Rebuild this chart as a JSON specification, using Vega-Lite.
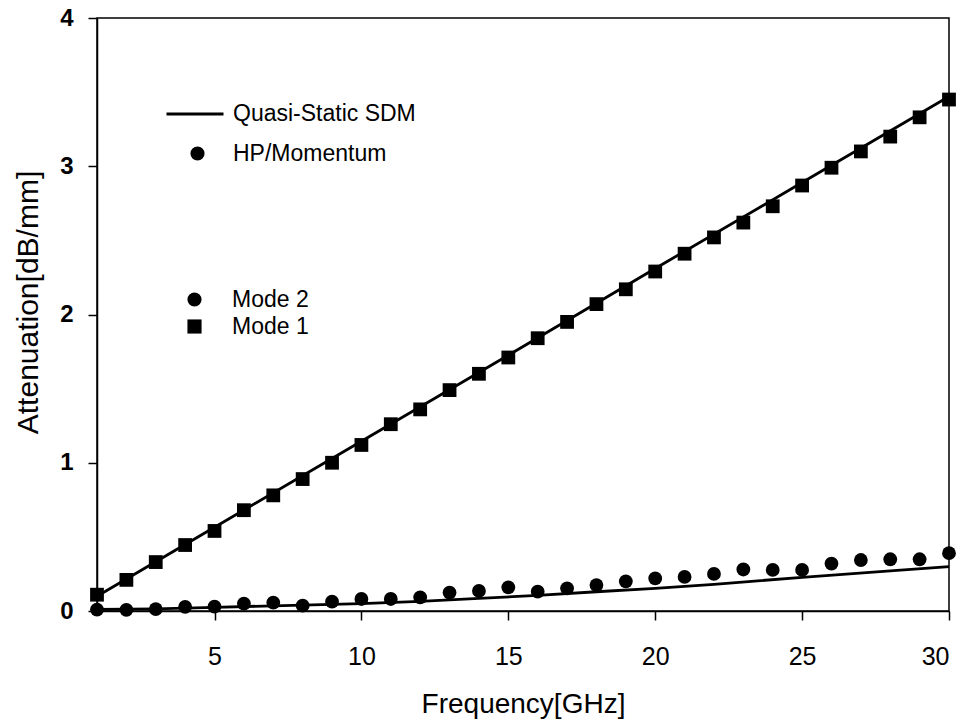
{
  "$schema": "https://vega.github.io/schema/vega-lite/v6.json",
  "width": 852,
  "height": 593,
  "autosize": {"type": "none"},
  "padding": {"left": 97, "top": 18, "right": 22, "bottom": 111},
  "background": "white",
  "config": {
    "font": "Liberation Sans",
    "view": {"stroke": "black", "strokeWidth": 1.5},
    "axis": {
      "grid": false,
      "domainColor": "black",
      "domainWidth": 1.5,
      "tickColor": "black",
      "tickWidth": 1.5,
      "tickSize": 9,
      "labelColor": "black",
      "titleColor": "black",
      "labelFont": "Liberation Sans",
      "titleFont": "Liberation Sans",
      "titleFontWeight": "normal"
    },
    "legend": {
      "labelFont": "Liberation Sans",
      "labelFontSize": 23,
      "labelColor": "black",
      "padding": 0,
      "labelLimit": 400
    }
  },
  "datasets": {
    "sdm": [
      {"mode": "Mode 1", "method": "Quasi-Static SDM", "f": 1, "v": 0.10},
      {"mode": "Mode 1", "method": "Quasi-Static SDM", "f": 5, "v": 0.565},
      {"mode": "Mode 1", "method": "Quasi-Static SDM", "f": 10, "v": 1.145},
      {"mode": "Mode 1", "method": "Quasi-Static SDM", "f": 15, "v": 1.725},
      {"mode": "Mode 1", "method": "Quasi-Static SDM", "f": 20, "v": 2.31},
      {"mode": "Mode 1", "method": "Quasi-Static SDM", "f": 25, "v": 2.89},
      {"mode": "Mode 1", "method": "Quasi-Static SDM", "f": 30, "v": 3.47},
      {"mode": "Mode 2", "method": "Quasi-Static SDM", "f": 1, "v": 0.01},
      {"mode": "Mode 2", "method": "Quasi-Static SDM", "f": 3, "v": 0.015},
      {"mode": "Mode 2", "method": "Quasi-Static SDM", "f": 5, "v": 0.025},
      {"mode": "Mode 2", "method": "Quasi-Static SDM", "f": 7, "v": 0.035},
      {"mode": "Mode 2", "method": "Quasi-Static SDM", "f": 10, "v": 0.05},
      {"mode": "Mode 2", "method": "Quasi-Static SDM", "f": 12, "v": 0.065},
      {"mode": "Mode 2", "method": "Quasi-Static SDM", "f": 14, "v": 0.085},
      {"mode": "Mode 2", "method": "Quasi-Static SDM", "f": 16, "v": 0.105},
      {"mode": "Mode 2", "method": "Quasi-Static SDM", "f": 18, "v": 0.13},
      {"mode": "Mode 2", "method": "Quasi-Static SDM", "f": 20, "v": 0.153},
      {"mode": "Mode 2", "method": "Quasi-Static SDM", "f": 22, "v": 0.18},
      {"mode": "Mode 2", "method": "Quasi-Static SDM", "f": 25, "v": 0.227},
      {"mode": "Mode 2", "method": "Quasi-Static SDM", "f": 28, "v": 0.27},
      {"mode": "Mode 2", "method": "Quasi-Static SDM", "f": 30, "v": 0.30}
    ],
    "hp": [
      {"mode": "Mode 1", "method": "HP/Momentum", "f": 1, "v": 0.11},
      {"mode": "Mode 1", "method": "HP/Momentum", "f": 2, "v": 0.21},
      {"mode": "Mode 1", "method": "HP/Momentum", "f": 3, "v": 0.33},
      {"mode": "Mode 1", "method": "HP/Momentum", "f": 4, "v": 0.445},
      {"mode": "Mode 1", "method": "HP/Momentum", "f": 5, "v": 0.54},
      {"mode": "Mode 1", "method": "HP/Momentum", "f": 6, "v": 0.68},
      {"mode": "Mode 1", "method": "HP/Momentum", "f": 7, "v": 0.78},
      {"mode": "Mode 1", "method": "HP/Momentum", "f": 8, "v": 0.89},
      {"mode": "Mode 1", "method": "HP/Momentum", "f": 9, "v": 1.0},
      {"mode": "Mode 1", "method": "HP/Momentum", "f": 10, "v": 1.12},
      {"mode": "Mode 1", "method": "HP/Momentum", "f": 11, "v": 1.26},
      {"mode": "Mode 1", "method": "HP/Momentum", "f": 12, "v": 1.36},
      {"mode": "Mode 1", "method": "HP/Momentum", "f": 13, "v": 1.49},
      {"mode": "Mode 1", "method": "HP/Momentum", "f": 14, "v": 1.6},
      {"mode": "Mode 1", "method": "HP/Momentum", "f": 15, "v": 1.71},
      {"mode": "Mode 1", "method": "HP/Momentum", "f": 16, "v": 1.84},
      {"mode": "Mode 1", "method": "HP/Momentum", "f": 17, "v": 1.95},
      {"mode": "Mode 1", "method": "HP/Momentum", "f": 18, "v": 2.07},
      {"mode": "Mode 1", "method": "HP/Momentum", "f": 19, "v": 2.17},
      {"mode": "Mode 1", "method": "HP/Momentum", "f": 20, "v": 2.29},
      {"mode": "Mode 1", "method": "HP/Momentum", "f": 21, "v": 2.41},
      {"mode": "Mode 1", "method": "HP/Momentum", "f": 22, "v": 2.52},
      {"mode": "Mode 1", "method": "HP/Momentum", "f": 23, "v": 2.62},
      {"mode": "Mode 1", "method": "HP/Momentum", "f": 24, "v": 2.73},
      {"mode": "Mode 1", "method": "HP/Momentum", "f": 25, "v": 2.87},
      {"mode": "Mode 1", "method": "HP/Momentum", "f": 26, "v": 2.99},
      {"mode": "Mode 1", "method": "HP/Momentum", "f": 27, "v": 3.10},
      {"mode": "Mode 1", "method": "HP/Momentum", "f": 28, "v": 3.20},
      {"mode": "Mode 1", "method": "HP/Momentum", "f": 29, "v": 3.33},
      {"mode": "Mode 1", "method": "HP/Momentum", "f": 30, "v": 3.45},
      {"mode": "Mode 2", "method": "HP/Momentum", "f": 1, "v": 0.01},
      {"mode": "Mode 2", "method": "HP/Momentum", "f": 2, "v": 0.008},
      {"mode": "Mode 2", "method": "HP/Momentum", "f": 3, "v": 0.012},
      {"mode": "Mode 2", "method": "HP/Momentum", "f": 4, "v": 0.028},
      {"mode": "Mode 2", "method": "HP/Momentum", "f": 5, "v": 0.03},
      {"mode": "Mode 2", "method": "HP/Momentum", "f": 6, "v": 0.05},
      {"mode": "Mode 2", "method": "HP/Momentum", "f": 7, "v": 0.057},
      {"mode": "Mode 2", "method": "HP/Momentum", "f": 8, "v": 0.036},
      {"mode": "Mode 2", "method": "HP/Momentum", "f": 9, "v": 0.063},
      {"mode": "Mode 2", "method": "HP/Momentum", "f": 10, "v": 0.081},
      {"mode": "Mode 2", "method": "HP/Momentum", "f": 11, "v": 0.081},
      {"mode": "Mode 2", "method": "HP/Momentum", "f": 12, "v": 0.092},
      {"mode": "Mode 2", "method": "HP/Momentum", "f": 13, "v": 0.124},
      {"mode": "Mode 2", "method": "HP/Momentum", "f": 14, "v": 0.135},
      {"mode": "Mode 2", "method": "HP/Momentum", "f": 15, "v": 0.16},
      {"mode": "Mode 2", "method": "HP/Momentum", "f": 16, "v": 0.13},
      {"mode": "Mode 2", "method": "HP/Momentum", "f": 17, "v": 0.153},
      {"mode": "Mode 2", "method": "HP/Momentum", "f": 18, "v": 0.175},
      {"mode": "Mode 2", "method": "HP/Momentum", "f": 19, "v": 0.2},
      {"mode": "Mode 2", "method": "HP/Momentum", "f": 20, "v": 0.22},
      {"mode": "Mode 2", "method": "HP/Momentum", "f": 21, "v": 0.23},
      {"mode": "Mode 2", "method": "HP/Momentum", "f": 22, "v": 0.25},
      {"mode": "Mode 2", "method": "HP/Momentum", "f": 23, "v": 0.28},
      {"mode": "Mode 2", "method": "HP/Momentum", "f": 24, "v": 0.277},
      {"mode": "Mode 2", "method": "HP/Momentum", "f": 25, "v": 0.277},
      {"mode": "Mode 2", "method": "HP/Momentum", "f": 26, "v": 0.32},
      {"mode": "Mode 2", "method": "HP/Momentum", "f": 27, "v": 0.344},
      {"mode": "Mode 2", "method": "HP/Momentum", "f": 28, "v": 0.349},
      {"mode": "Mode 2", "method": "HP/Momentum", "f": 29, "v": 0.349},
      {"mode": "Mode 2", "method": "HP/Momentum", "f": 30, "v": 0.39}
    ]
  },
  "encoding": {
    "x": {
      "field": "f",
      "type": "quantitative",
      "scale": {"domain": [1, 30], "nice": false, "zero": false},
      "axis": {
        "title": "Frequency[GHz]",
        "values": [5, 10, 15, 20, 25, 30],
        "labelFontSize": 25,
        "labelPadding": 24,
        "titleFontSize": 28,
        "titleBaseline": "alphabetic",
        "titleY": 101
      }
    },
    "y": {
      "field": "v",
      "type": "quantitative",
      "scale": {"domain": [0, 4], "nice": false},
      "axis": {
        "title": "Attenuation[dB/mm]",
        "values": [0, 1, 2, 3, 4],
        "labelFontSize": 24,
        "labelFontWeight": "bold",
        "labelPadding": 15,
        "titleFontSize": 30,
        "titleBaseline": "alphabetic",
        "titleX": -60,
        "titleY": 284
      }
    }
  },
  "layer": [
    {
      "data": {"name": "sdm"},
      "mark": {"type": "line", "strokeWidth": 2.8},
      "encoding": {
        "detail": {"field": "mode", "type": "nominal"},
        "color": {
          "field": "method",
          "type": "nominal",
          "scale": {"domain": ["Quasi-Static SDM"], "range": ["black"]},
          "legend": {
            "title": null,
            "orient": "none",
            "legendX": 68,
            "legendY": 66,
            "symbolType": "stroke",
            "symbolSize": 3249,
            "symbolStrokeWidth": 3,
            "labelOffset": 8
          }
        }
      }
    },
    {
      "data": {"name": "hp"},
      "mark": {"type": "point", "filled": true, "opacity": 1, "size": 190},
      "encoding": {
        "shape": {
          "field": "mode",
          "type": "nominal",
          "scale": {"domain": ["Mode 2", "Mode 1"], "range": ["circle", "square"]},
          "legend": {
            "title": null,
            "orient": "none",
            "legendX": 86,
            "legendY": 270,
            "symbolSize": 200,
            "symbolFillColor": "black",
            "symbolStrokeColor": "black",
            "symbolStrokeWidth": 0,
            "labelOffset": 26,
            "rowPadding": 3
          }
        },
        "color": {
          "field": "method",
          "type": "nominal",
          "scale": {"domain": ["HP/Momentum"], "range": ["black"]},
          "legend": {
            "title": null,
            "orient": "none",
            "legendX": 89,
            "legendY": 124,
            "symbolType": "circle",
            "symbolSize": 200,
            "symbolFillColor": "black",
            "symbolStrokeWidth": 0,
            "labelOffset": 24
          }
        }
      }
    }
  ],
  "resolve": {"scale": {"color": "independent"}, "legend": {"color": "independent"}}
}
